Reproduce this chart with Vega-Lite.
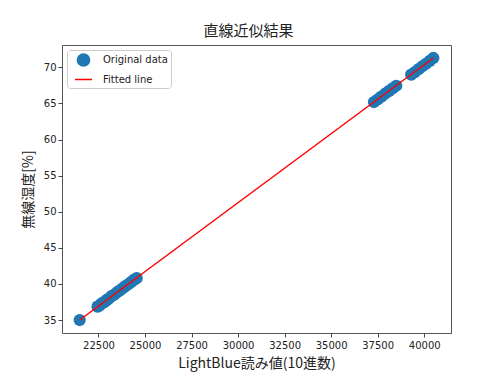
{
  "$schema": "https://vega.github.io/schema/vega-lite/v6.json",
  "width": 389,
  "height": 288,
  "autosize": "none",
  "padding": {"left": 62, "top": 45, "right": 49, "bottom": 48},
  "background": "white",
  "title": {
    "text": "直線近似結果",
    "font": "Noto Sans CJK JP",
    "fontSize": 15,
    "fontWeight": "normal",
    "color": "#222",
    "offset": 6,
    "anchor": "middle",
    "dx": -8
  },
  "datasets": {
    "points": [
      {"x": 21490, "y": 35.0},
      {"x": 22450, "y": 36.85},
      {"x": 22550, "y": 37.0},
      {"x": 22650, "y": 37.25},
      {"x": 22750, "y": 37.4},
      {"x": 22850, "y": 37.55},
      {"x": 22950, "y": 37.8},
      {"x": 23050, "y": 37.95},
      {"x": 23200, "y": 38.3},
      {"x": 23350, "y": 38.5},
      {"x": 23500, "y": 38.85},
      {"x": 23650, "y": 39.1},
      {"x": 23800, "y": 39.4},
      {"x": 23950, "y": 39.7},
      {"x": 24100, "y": 39.95},
      {"x": 24250, "y": 40.25},
      {"x": 24400, "y": 40.55},
      {"x": 24550, "y": 40.8},
      {"x": 37300, "y": 65.2},
      {"x": 37500, "y": 65.55},
      {"x": 37700, "y": 65.95},
      {"x": 37900, "y": 66.35},
      {"x": 38100, "y": 66.7},
      {"x": 38300, "y": 67.1},
      {"x": 38500, "y": 67.45},
      {"x": 39300, "y": 69.0},
      {"x": 39500, "y": 69.35},
      {"x": 39700, "y": 69.75},
      {"x": 39900, "y": 70.15},
      {"x": 40100, "y": 70.5},
      {"x": 40300, "y": 70.9},
      {"x": 40490, "y": 71.3}
    ],
    "fit": [
      {"x": 21490, "y": 35.0},
      {"x": 40490, "y": 71.3}
    ]
  },
  "config": {
    "view": {"stroke": "#555", "strokeWidth": 1},
    "axis": {
      "domain": false,
      "grid": false,
      "tickColor": "#444",
      "tickSize": 4,
      "labelFont": "DejaVu Sans",
      "labelFontSize": 10,
      "labelColor": "#222",
      "titleFont": "Noto Sans CJK JP",
      "titleFontSize": 14,
      "titleFontWeight": "normal",
      "titleColor": "#222"
    },
    "legend": {
      "orient": "top-left",
      "offset": 5,
      "padding": 3,
      "fillColor": "white",
      "strokeColor": "#cccccc",
      "cornerRadius": 3,
      "symbolStrokeWidth": 1.5,
      "symbolOffset": 4,
      "labelFont": "DejaVu Sans",
      "labelFontSize": 10,
      "labelColor": "#222",
      "labelOffset": 10,
      "rowPadding": 0
    }
  },
  "encoding": {
    "x": {
      "field": "x",
      "type": "quantitative",
      "scale": {"domain": [20540, 41440], "nice": false, "zero": false},
      "axis": {
        "title": "LightBlue読み値(10進数)",
        "values": [22500, 25000, 27500, 30000, 32500, 35000, 37500, 40000],
        "format": "d",
        "labelPadding": 3,
        "titlePadding": 6
      }
    },
    "y": {
      "field": "y",
      "type": "quantitative",
      "scale": {"domain": [33.2, 73.1], "nice": false, "zero": false},
      "axis": {
        "title": "無線湿度[%]",
        "values": [35, 40, 45, 50, 55, 60, 65, 70],
        "labelPadding": 2,
        "titlePadding": 8
      }
    }
  },
  "layer": [
    {
      "data": {"name": "points"},
      "transform": [{"calculate": "'Original data'", "as": "series"}],
      "mark": {"type": "point", "filled": true, "opacity": 1, "strokeWidth": 0},
      "encoding": {
        "fill": {
          "field": "series",
          "type": "nominal",
          "scale": {"domain": ["Original data", "Fitted line"], "range": ["#1f77b4", "transparent"]},
          "legend": {"title": null}
        },
        "stroke": {
          "field": "series",
          "type": "nominal",
          "scale": {"domain": ["Original data", "Fitted line"], "range": ["#1f77b4", "#ff0000"]},
          "legend": {"title": null}
        },
        "shape": {
          "field": "series",
          "type": "nominal",
          "scale": {"domain": ["Original data", "Fitted line"], "range": ["circle", "stroke"]},
          "legend": {"title": null}
        },
        "size": {
          "field": "series",
          "type": "nominal",
          "scale": {"type": "point", "padding": 0, "domain": ["Original data", "Fitted line"], "range": [150, 289]},
          "legend": {"title": null}
        }
      }
    },
    {
      "data": {"name": "fit"},
      "transform": [{"calculate": "'Fitted line'", "as": "series"}],
      "mark": {"type": "line", "strokeWidth": 1.5},
      "encoding": {
        "stroke": {"field": "series", "type": "nominal", "legend": {"title": null}}
      }
    }
  ]
}
